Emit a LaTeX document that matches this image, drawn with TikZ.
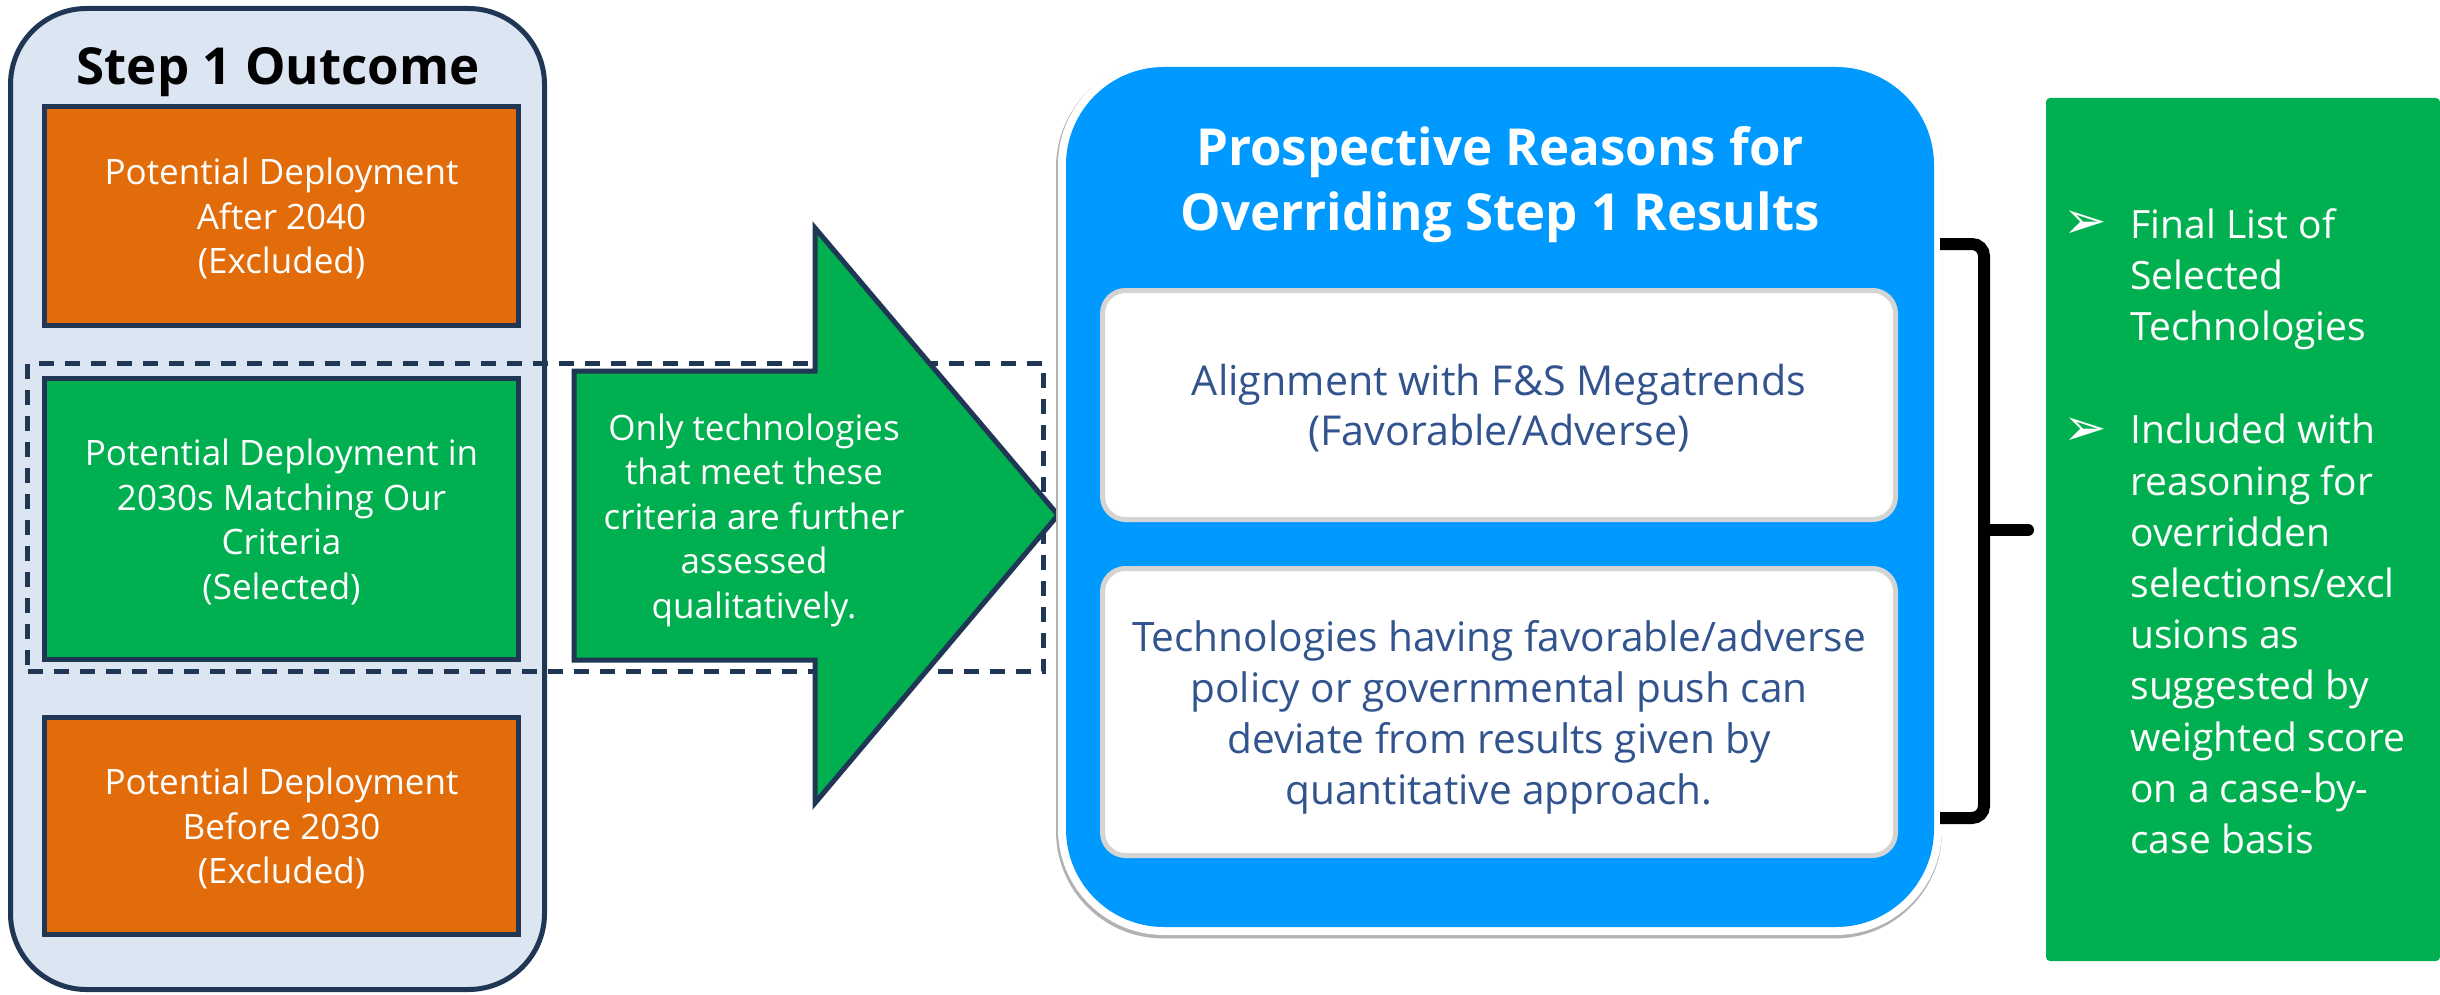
\documentclass[tikz,border=0pt]{standalone}
\usepackage{fontspec}
\setmainfont{Open Sans}
\newfontfamily\bulletfont{DejaVu Sans}

\definecolor{navyline}{RGB}{31,54,84}
\definecolor{panelfill}{RGB}{220,230,242}
\definecolor{excludedorange}{RGB}{227,108,10}
\definecolor{selectedgreen}{RGB}{0,176,80}
\definecolor{reasonblue}{RGB}{0,153,255}
\definecolor{reasontext}{RGB}{50,84,142}
\definecolor{itemborder}{RGB}{212,212,212}

\tikzset{
	stagebox/.style={rectangle, draw=navyline, line width=2.5pt, text=white, align=center, text depth=0pt, minimum width=237pt, font=\fontsize{17.5pt}{22.3pt}\selectfont},
	excludedbox/.style={stagebox, fill=excludedorange},
	selectedbox/.style={stagebox, fill=selectedgreen},
	reasonitem/.style={rectangle, rounded corners=11.5pt, draw=itemborder, line width=2.5pt, fill=white, text=reasontext, align=center, text depth=0pt, minimum width=396.5pt, font=\fontsize{20.3pt}{25.5pt}\selectfont},
	finalitem/.style={anchor=west, inner sep=0pt, align=left, text=white, font=\fontsize{19.5pt}{25.6pt}\selectfont},
	finalbullet/.style={inner sep=0pt, text=white, font=\bulletfont\fontsize{26pt}{26pt}\selectfont},
	bracestroke/.style={line width=6pt, black},
}

\begin{document}
\begin{tikzpicture}[x=0.5pt, y=-0.5pt]
	\useasboundingbox[fill=white] (0,0) rectangle (2440,995);

	% step 1 outcome column
	\node[rectangle, rounded corners=38pt, draw=navyline, line width=2.5pt, fill=panelfill, minimum width=267pt, minimum height=490.5pt] (outcome) at (277.5,499) {};
	\node[anchor=base, font=\bfseries\fontsize{25.5pt}{30pt}\selectfont] (outcometitle) at (278,85) {Step 1 Outcome};
	\node[rectangle, dash pattern=on 7.5pt off 5.5pt, draw=navyline, line width=2.5pt, minimum width=508pt, minimum height=154pt] (selectframe) at (535.5,517.5) {};

	\node[excludedbox, minimum height=109.5pt] (after) at (281.5,216) {Potential Deployment\\After 2040\\(Excluded)};
	\node[selectedbox, minimum height=140.5pt] (within) at (281.5,519) {Potential Deployment in\\2030s Matching Our\\Criteria\\(Selected)};
	\node[excludedbox, minimum height=108.5pt] (before) at (281.5,826) {Potential Deployment\\Before 2030\\(Excluded)};

	% arrow to the qualitative step
	\draw[navyline, line width=2.5pt, fill=selectedgreen] (574,371) -- (815,371) -- (815,228) -- (1058,515) -- (815,803) -- (815,660) -- (574,660) -- cycle;
	\node[text=white, align=center, text depth=0pt, font=\fontsize{17.5pt}{22.3pt}\selectfont] (onlytext) at (754,516) {Only technologies\\that meet these\\criteria are further\\assessed\\qualitatively.};

	% reasons for overriding
	\node[rectangle, rounded corners=49pt, fill=reasonblue, minimum width=434pt, minimum height=430pt, preaction={draw=black!30, line width=9pt, transform canvas={shift={(-0.5pt,-1.2pt)}}}, preaction={draw=white, line width=8pt}] (reasons) at (1500,497) {};
	\node[text=white, align=center, font=\bfseries\fontsize{25.5pt}{32.5pt}\selectfont] (reasonstitle) at (1500,185) {Prospective Reasons for\\Overriding Step 1 Results};
	\node[reasonitem, minimum height=114.5pt, font=\fontsize{20.6pt}{25pt}\selectfont] (megatrends) at (1499,405) {Alignment with F\&S Megatrends\\(Favorable/Adverse)};
	\node[reasonitem, minimum height=143.5pt] (policy) at (1499,712) {Technologies having favorable/adverse\\policy or governmental push can\\deviate from results given by\\quantitative approach.};

	% brace
	\coordinate (bracetop) at (1940,244);
	\coordinate (bracebottom) at (1940,818);
	\coordinate (bracetip) at (2028,530);
	\draw[bracestroke, rounded corners=6pt] (bracetop) -- (1984,244) -- (1984,818) -- (bracebottom);
	\draw[bracestroke, line cap=round] (1984,530) -- (bracetip);

	% final list
	\node[rectangle, rounded corners=2pt, fill=selectedgreen, minimum width=197pt, minimum height=431.5pt] (finallist) at (2243,529.5) {};
	\node[finalbullet] (bulletone) at (2085,225) {➢};
	\node[finalitem] (itemone) at (2130,279) {Final List of\\Selected\\Technologies};
	\node[finalbullet] (bullettwo) at (2085,432) {➢};
	\node[finalitem] (itemtwo) at (2130,634) {Included with\\reasoning for\\overridden\\selections/excl\\usions as\\suggested by\\weighted score\\on a case-by-\\case basis};
\end{tikzpicture}
\end{document}
